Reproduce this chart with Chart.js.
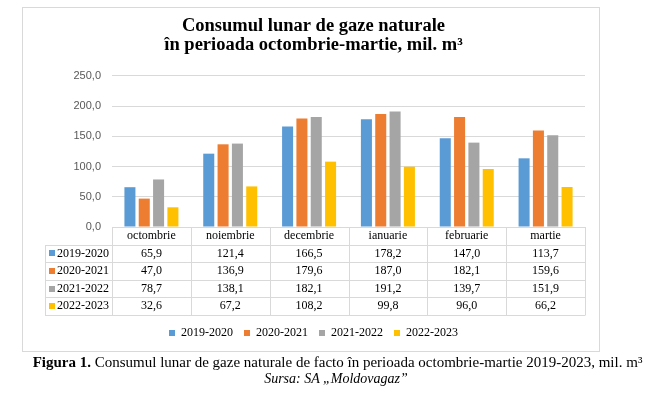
<!DOCTYPE html>
<html><head><meta charset="utf-8">
<script src="https://cdn.jsdelivr.net/npm/chart.js@4"></script>
<style>
html,body{margin:0;padding:0;background:#fff;}
#wrap{position:relative;width:650px;height:399px;overflow:hidden;}
#frame{position:absolute;left:22px;top:7px;width:578px;height:345px;border:1px solid #d9d9d9;box-sizing:border-box;}
#c{position:absolute;left:0;top:0;}
#cap{position:absolute;left:0;width:675px;top:354px;text-align:center;font-family:'Liberation Serif';font-size:15px;line-height:17px;color:#000;white-space:nowrap;}
#src{position:absolute;left:0;width:672px;top:371px;text-align:center;font-family:'Liberation Serif';font-style:italic;font-size:14px;line-height:16px;color:#000;white-space:nowrap;}
</style></head>
<body>
<div id="wrap">
<div id="frame"></div>
<canvas id="c" width="650" height="399"></canvas>
<div id="cap"><b>Figura 1.</b> Consumul lunar de gaze naturale de facto în perioada octombrie-martie 2019-2023, mil. m³</div>
<div id="src">Sursa: SA „Moldovagaz”</div>
</div>
<script>
const months = ['octombrie','noiembrie','decembrie','ianuarie','februarie','martie'];
const seriesNames = ['2019-2020','2020-2021','2021-2022','2022-2023'];
const s2019 = [65.9,121.4,166.5,178.2,147.0,113.7];
const s2020 = [47.0,136.9,179.6,187.0,182.1,159.6];
const s2021 = [78.7,138.1,182.1,191.2,139.7,151.9];
const s2022 = [32.6,67.2,108.2,99.8,96.0,66.2];
const yTicks = [0,50,100,150,200,250];
const titleLines = ['Consumul lunar de gaze naturale','în perioada octombrie-martie, mil. m³'];
const colors = ['#5B9BD5','#ED7D31','#A5A5A5','#FFC000'];

const fmt = v => Number(v).toFixed(1).replace('.', ',');
const seriesData = [s2019, s2020, s2021, s2022];

const tablePlugin = {
  id: 'dataTable',
  afterDraw(chart) {
    const {ctx, chartArea, scales} = chart;
    const x = scales.x;
    const n = months.length;
    const colW = (chartArea.right - chartArea.left) / n;
    const top = chartArea.bottom;
    const rowH = 17.6;
    const tLeft = 45;
    const rows = seriesData.length;
    const bottom = top + rowH * (rows + 1);
    ctx.save();
    ctx.strokeStyle = '#d9d9d9';
    ctx.lineWidth = 1;
    ctx.beginPath();
    ctx.moveTo(chartArea.left, Math.round(top) + 0.5);
    ctx.lineTo(chartArea.right, Math.round(top) + 0.5);
    for (let k = 1; k <= rows + 1; k++) {
      const yy = Math.round(top + rowH * k) + 0.5;
      ctx.moveTo(tLeft, yy); ctx.lineTo(chartArea.right, yy);
    }
    for (let i = 0; i <= n; i++) {
      const xx = Math.round(chartArea.left + colW * i) + 0.5;
      ctx.moveTo(xx, top); ctx.lineTo(xx, Math.round(bottom) + 0.5);
    }
    ctx.moveTo(tLeft + 0.5, Math.round(top + rowH) + 0.5);
    ctx.lineTo(tLeft + 0.5, Math.round(bottom) + 0.5);
    ctx.stroke();

    ctx.font = "12px 'Liberation Serif'";
    ctx.textBaseline = 'middle';
    for (let r = 0; r < rows; r++) {
      const mid = top + rowH * (r + 1) + rowH / 2;
      ctx.fillStyle = colors[r];
      ctx.fillRect(49, Math.round(mid - 3), 6, 6);
      ctx.fillStyle = '#000';
      ctx.textAlign = 'left';
      ctx.fillText(seriesNames[r], 57, mid);
      ctx.textAlign = 'center';
      for (let i = 0; i < n; i++) {
        ctx.fillText(fmt(seriesData[r][i]), x.getPixelForValue(i), mid);
      }
    }
    ctx.restore();
  }
};

new Chart(document.getElementById('c'), {
  type: 'bar',
  data: {
    labels: months,
    datasets: seriesData.map((d, i) => ({
      label: seriesNames[i],
      data: d,
      backgroundColor: colors[i],
      borderWidth: 0,
      categoryPercentage: 0.727,
      barPercentage: 0.77
    }))
  },
  options: {
    responsive: false,
    animation: false,
    layout: {padding: {left: 42, right: 65, top: 0, bottom: 50}},
    plugins: {
      title: {
        display: true, text: titleLines, color: '#000',
        font: {family: 'Liberation Serif', size: 18.5, weight: 'bold', lineHeight: 1.027},
        padding: {top: 17, bottom: 21}
      },
      legend: {
        position: 'bottom',
        labels: {boxWidth: 6, boxHeight: 6, padding: 11, color: '#000',
          font: {family: 'Liberation Serif', size: 12}}
      },
      tooltip: {enabled: false}
    },
    scales: {
      x: {
        grid: {display: false, drawTicks: false},
        border: {display: false},
        ticks: {font: {family: 'Liberation Serif', size: 12, lineHeight: 1.2}, color: '#000', padding: 2, maxRotation: 0, autoSkip: false},
        afterFit(s) { s.height = 89; }
      },
      y: {
        min: 0, max: 250,
        afterBuildTicks(s) { s.ticks = yTicks.map(v => ({value: v})); },
        ticks: {callback: v => fmt(v), font: {family: 'Liberation Sans', size: 11}, color: '#595959', padding: 11},
        grid: {color: '#d9d9d9', drawTicks: false},
        border: {display: false},
        afterFit(s) { s.width = 70; }
      }
    }
  },
  plugins: [tablePlugin]
});
</script>
</body></html>
